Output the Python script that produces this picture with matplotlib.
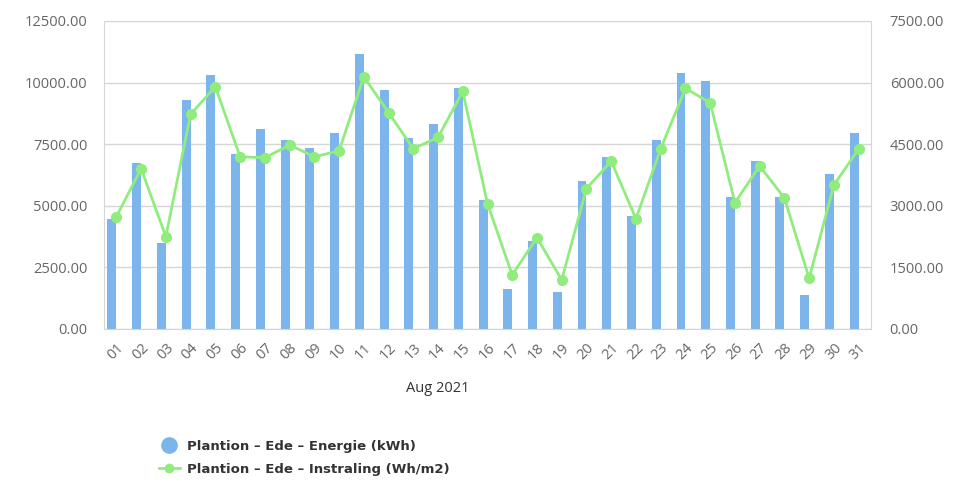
import matplotlib
matplotlib.use("Agg")
import matplotlib.pyplot as plt
from matplotlib.lines import Line2D

# Daily values, Aug 2021
days = ["01", "02", "03", "04", "05", "06", "07", "08", "09", "10",
        "11", "12", "13", "14", "15", "16", "17", "18", "19", "20",
        "21", "22", "23", "24", "25", "26", "27", "28", "29", "30", "31"]
energie = [4470, 6750, 3500, 9290, 10300, 7100, 8120, 7660, 7360, 7970,
           11160, 9700, 7770, 8320, 9780, 5240, 1620, 3560, 1520, 5990,
           6990, 4570, 7660, 10400, 10070, 5370, 6800, 5370, 1380, 6300, 7970]
instraling = [2735, 3905, 2250, 5230, 5900, 4195, 4170, 4480, 4195, 4335,
              6145, 5270, 4390, 4665, 5785, 3050, 1315, 2225, 1195, 3420,
              4085, 2685, 4390, 5860, 5510, 3075, 3970, 3190, 1235, 3505, 4385]
left_ticks = [0, 2500, 5000, 7500, 10000, 12500]
right_ticks = [0, 1500, 3000, 4500, 6000, 7500]

bar_color = "#7cb5ec"
line_color = "#90ed7d"
text_color = "#666666"

fig = plt.figure(figsize=(9.6, 4.88), dpi=100)
ax = fig.add_axes([104 / 960, 1 - 329 / 488, 767 / 960, 308 / 488])

x = list(range(len(days)))
ax.bar([i - 0.18 for i in x], energie, width=0.36, color=bar_color, zorder=2)
ax.set_xlim(-0.5, len(days) - 0.5)
ax.set_ylim(left_ticks[0], left_ticks[-1])
ax.set_yticks(left_ticks)
ax.set_yticklabels([f"{v:.2f}" for v in left_ticks])
ax.grid(axis="y", color="#d6d6d6", linewidth=1, zorder=0)
ax.set_xticks(x)
ax.set_xticklabels(days, rotation=45, ha="right", rotation_mode="anchor")
ax.tick_params(axis="both", length=0, colors=text_color, labelsize=10.5)
ax.tick_params(axis="y", pad=12)
ax.tick_params(axis="x", pad=8, labelsize=10.5)
for side in ["top", "right", "left"]:
    ax.spines[side].set_color("#d6d6d6")
ax.spines["bottom"].set_color("#ccd6eb")

ax2 = ax.twinx()
ax2.plot(x, instraling, color=line_color, linewidth=2, marker="o",
         markersize=7, zorder=3)
ax2.set_ylim(right_ticks[0], right_ticks[-1])
ax2.set_yticks(right_ticks)
ax2.set_yticklabels([f"{v:.2f}" for v in right_ticks])
ax2.tick_params(axis="y", length=0, colors=text_color, labelsize=10.5, pad=13.5)
for side in ["top", "right", "left", "bottom"]:
    ax2.spines[side].set_visible(False)

for lbl in ax.get_yticklabels() + ax.get_xticklabels() + ax2.get_yticklabels():
    lbl.set_family("Open Sans")

fig.text(438 / 960, 1 - 388 / 488, "Aug 2021", ha="center", va="center",
         fontsize=10.5, color="#333333", family="Open Sans")

handles = [
    Line2D([], [], linestyle="none", marker="o", markersize=11, color=bar_color),
    Line2D([], [], color=line_color, linewidth=2, marker="o", markersize=6),
]
labels = ["Plantion \u2013 Ede \u2013 Energie (kWh)",
          "Plantion \u2013 Ede \u2013 Instraling (Wh/m2)"]
fig.legend(handles, labels, loc="upper left", bbox_to_anchor=(147 / 960, 1 - 428 / 488),
           frameon=False, handlelength=1.6, handletextpad=0.5, labelspacing=0.75,
           prop={"weight": "bold", "size": 9.5}, labelcolor="#333333")

fig.savefig("out.png", dpi=100)
